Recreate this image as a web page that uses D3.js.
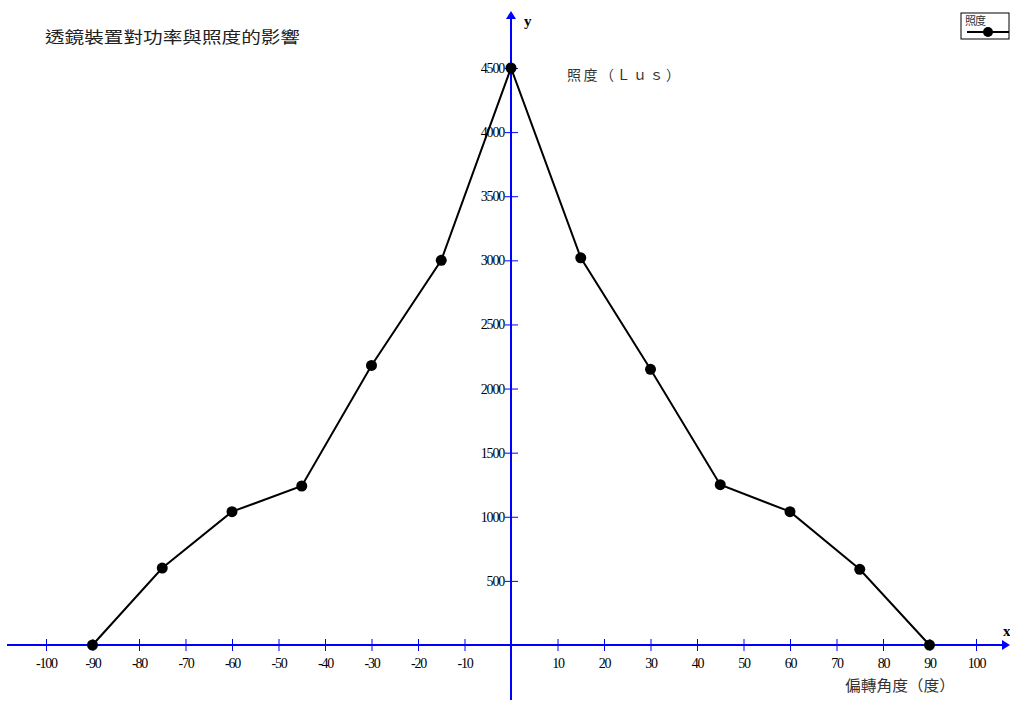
<!DOCTYPE html>
<html>
<head>
<meta charset="utf-8">
<script src="https://cdn.jsdelivr.net/npm/d3@7"></script>
<style>
  body { margin: 0; background: #fff; }
  svg { display: block; }
</style>
</head>
<body>
<div id="chart"></div>
<script>
// data
const angles = [-90, -75, -60, -45, -30, -15, 0, 15, 30, 45, 60, 75, 90];
const lux = [0, 600, 1040, 1240, 2180, 3000, 4500, 3020, 2150, 1250, 1040, 590, 0];
const xTicks = [-100, -90, -80, -70, -60, -50, -40, -30, -20, -10, 10, 20, 30, 40, 50, 60, 70, 80, 90, 100];
const yTicks = [500, 1000, 1500, 2000, 2500, 3000, 3500, 4000, 4500];

const width = 1010, height = 702;
const blue = "#0000ff";
const serif = "'Liberation Serif', 'DejaVu Serif', serif";
const cjk = "'Noto Sans CJK TC', 'Noto Sans CJK SC', sans-serif";
const fmt = d => String(d); // plain numbers, ascii minus

const svg = d3.select("#chart").append("svg")
  .attr("width", width)
  .attr("height", height);

const x = d3.scaleLinear().domain([-90, 90]).range([92.5, 929.5]);
const y = d3.scaleLinear().domain([0, 4500]).range([645, 68]);

// x axis (ticks cross the line)
const gx = svg.append("g")
  .attr("transform", `translate(0,${y(0)})`)
  .call(d3.axisBottom(x).tickValues(xTicks).tickFormat(fmt).tickSize(6).tickPadding(7));
gx.select(".domain").remove();
gx.selectAll(".tick line").attr("y1", -6).attr("y2", 6).attr("stroke", blue).attr("stroke-width", 1);
gx.selectAll(".tick text")
  .attr("fill", "#000")
  .style("font-family", serif)
  .style("font-size", "14px")
  .style("letter-spacing", "-1.2px");

// y axis
const gy = svg.append("g")
  .attr("transform", `translate(${x(0)},0)`)
  .call(d3.axisLeft(y).tickValues(yTicks).tickFormat(fmt).tickSize(6).tickPadding(1));
gy.select(".domain").remove();
gy.selectAll(".tick line").attr("x1", -6).attr("x2", 7).attr("stroke", blue).attr("stroke-width", 1);
gy.selectAll(".tick text")
  .attr("fill", "#000")
  .style("font-family", serif)
  .style("font-size", "14px")
  .style("letter-spacing", "-1.2px");

// axis lines with arrows
svg.append("line")
  .attr("x1", 7).attr("x2", 1004)
  .attr("y1", y(0)).attr("y2", y(0))
  .attr("stroke", blue).attr("stroke-width", 2);
svg.append("path")
  .attr("d", `M1010,${y(0)} L1002,${y(0) - 5} L1002,${y(0) + 5} Z`)
  .attr("fill", blue);

svg.append("line")
  .attr("x1", x(0)).attr("x2", x(0))
  .attr("y1", 700).attr("y2", 18)
  .attr("stroke", blue).attr("stroke-width", 2);
svg.append("path")
  .attr("d", `M${x(0)},11 L${x(0) - 5},19 L${x(0) + 5},19 Z`)
  .attr("fill", blue);

svg.append("text").attr("x", 524).attr("y", 26).text("y")
  .style("font-family", serif).style("font-weight", "bold").style("font-size", "15px");
svg.append("text").attr("x", 1003).attr("y", 636).text("x")
  .style("font-family", serif).style("font-weight", "bold").style("font-size", "15px");

// series
const pts = angles.map((a, i) => ({ a, v: lux[i] }));
svg.append("path")
  .datum(pts)
  .attr("fill", "none")
  .attr("stroke", "#000")
  .attr("stroke-width", 2)
  .attr("d", d3.line().x(d => x(d.a)).y(d => y(d.v)));

svg.selectAll(".dot")
  .data(pts)
  .join("circle")
  .attr("class", "dot")
  .attr("cx", d => x(d.a))
  .attr("cy", d => y(d.v))
  .attr("r", 5.5)
  .attr("fill", "#000");

// texts
svg.append("text").attr("x", 45).attr("y", 43)
  .text("透鏡裝置對功率與照度的影響")
  .attr("textLength", 255).attr("lengthAdjust", "spacingAndGlyphs")
  .style("font-family", cjk).style("font-size", "16px").attr("fill", "#222");

svg.append("text").attr("x", 567).attr("y", 80)
  .text("照度（Ｌｕｓ）")
  .attr("textLength", 113).attr("lengthAdjust", "spacing")
  .style("font-family", cjk).style("font-size", "14px").attr("fill", "#333");

svg.append("text").attr("x", 845).attr("y", 691)
  .text("偏轉角度（度）")
  .attr("textLength", 110).attr("lengthAdjust", "spacingAndGlyphs")
  .style("font-family", cjk).style("font-size", "15px").attr("fill", "#333");

// legend
const lg = svg.append("g").attr("transform", "translate(961,13)");
lg.append("rect").attr("width", 48).attr("height", 26)
  .attr("fill", "#fff").attr("stroke", "#000").attr("stroke-width", 1);
lg.append("text").attr("x", 4).attr("y", 12).text("照度")
  .style("font-family", cjk).style("font-size", "11px").style("letter-spacing", "-1px").attr("fill", "#333");
lg.append("line").attr("x1", 6).attr("x2", 48).attr("y1", 19).attr("y2", 19)
  .attr("stroke", "#000").attr("stroke-width", 2);
lg.append("circle").attr("cx", 27).attr("cy", 19).attr("r", 5).attr("fill", "#000");
</script>
</body>
</html>
